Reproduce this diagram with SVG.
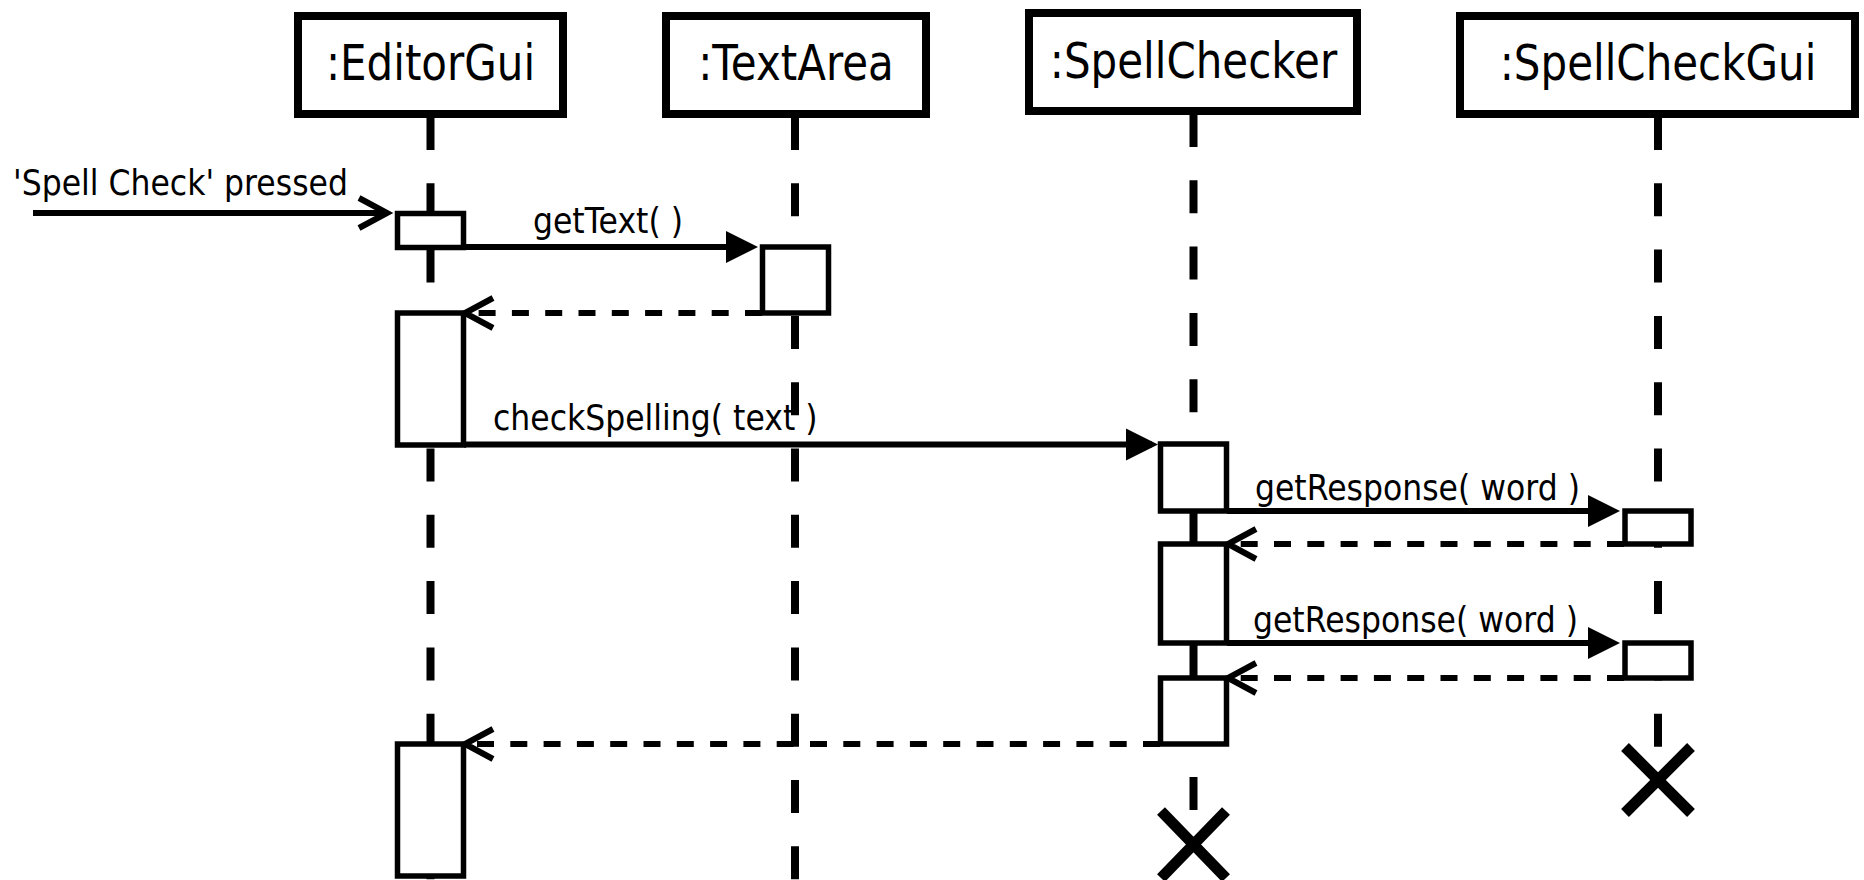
<svg xmlns="http://www.w3.org/2000/svg" width="1864" height="880" viewBox="0 0 1864 880">
<defs>
<style>
.box{fill:#fff;stroke:#000;stroke-width:8}
.title{font-family:"DejaVu Sans","Liberation Sans",sans-serif;font-size:42px;text-anchor:middle;fill:#000}
.label{font-family:"DejaVu Sans","Liberation Sans",sans-serif;font-size:31.5px;fill:#000}
.life{stroke:#000;stroke-width:8;stroke-dasharray:33 33.3;fill:none}
.act{fill:#fff;stroke:#000;stroke-width:5.5}
.msg{stroke:#000;stroke-width:6;fill:none}
.ret{stroke:#000;stroke-width:6;fill:none;stroke-dasharray:17 16.3}
.destroy{stroke:#000;stroke-width:11;fill:none}
</style>
<marker id="filled" markerUnits="userSpaceOnUse" markerWidth="32" markerHeight="32" refX="26" refY="16" orient="auto" style="overflow:visible">
<path d="M0,0 L32,16 L0,32 Z" fill="#000" stroke="none"/>
</marker>
<marker id="open" markerUnits="userSpaceOnUse" markerWidth="40" markerHeight="40" refX="32" refY="17" orient="auto" style="overflow:visible">
<path d="M4,2 L32,17 L4,32" fill="none" stroke="#000" stroke-width="6" stroke-linejoin="miter" stroke-dasharray="none"/>
</marker>
</defs>
<rect x="0" y="0" width="1864" height="880" fill="#fff"/>

<g id="message-labels">
<text class="label" transform="translate(13,195) scale(1,1.1)">'Spell Check' pressed</text>
<text class="label" transform="translate(533,233) scale(1,1.1)">getText( )</text>
<text class="label" transform="translate(493,430) scale(1,1.1)">checkSpelling( text )</text>
<text class="label" transform="translate(1255,500) scale(1,1.1)">getResponse( word )</text>
<text class="label" transform="translate(1253,632) scale(1,1.1)">getResponse( word )</text>
</g>

<g id="editorGui">
<rect class="box" x="298" y="16" width="265" height="98"/>
<text class="title" transform="translate(430.5,80) scale(1,1.2)">:EditorGui</text>
<line class="life" x1="430.5" y1="117" x2="430.5" y2="880"/>
<rect class="act" x="397.5" y="213.5" width="66" height="34"/>
<rect class="act" x="397.5" y="313" width="66" height="132"/>
<rect class="act" x="397.5" y="744" width="66" height="132"/>
</g>

<g id="textArea">
<rect class="box" x="666" y="16" width="260" height="98"/>
<text class="title" transform="translate(796,80) scale(1,1.2)">:TextArea</text>
<line class="life" x1="795" y1="117" x2="795" y2="880"/>
<rect class="act" x="762.5" y="247" width="66" height="66"/>
</g>

<g id="spellChecker">
<rect class="box" x="1029" y="13" width="328" height="98"/>
<text class="title" transform="translate(1193.5,78) scale(1,1.2)">:SpellChecker</text>
<line class="life" x1="1193.5" y1="114" x2="1193.5" y2="812"/>
<rect class="act" x="1160.5" y="444" width="66" height="67"/>
<rect class="act" x="1160.5" y="544" width="66" height="99"/>
<rect class="act" x="1160.5" y="678" width="66" height="66"/>
<path class="destroy" d="M1161,811 L1226,878 M1226,811 L1161,878"/>
</g>

<g id="spellCheckGui">
<rect class="box" x="1460" y="16" width="395" height="98"/>
<text class="title" transform="translate(1658,80) scale(1,1.2)">:SpellCheckGui</text>
<line class="life" x1="1658" y1="117" x2="1658" y2="750"/>
<rect class="act" x="1625" y="511" width="66" height="33"/>
<rect class="act" x="1625" y="643" width="66" height="35"/>
<path class="destroy" d="M1625,747 L1691,813 M1691,747 L1625,813"/>
</g>

<g id="connectors">
<line class="msg" x1="33" y1="213" x2="387" y2="213" marker-end="url(#open)"/>
<line class="msg" x1="464" y1="247" x2="752" y2="247" marker-end="url(#filled)"/>
<line class="ret" x1="762" y1="313" x2="465" y2="313" marker-end="url(#open)"/>
<line class="msg" x1="464" y1="444.5" x2="1152" y2="444.5" marker-end="url(#filled)"/>
<line class="msg" x1="1227" y1="511" x2="1614" y2="511" marker-end="url(#filled)"/>
<line class="ret" x1="1624" y1="544" x2="1228" y2="544" marker-end="url(#open)"/>
<line class="msg" x1="1227" y1="643" x2="1614" y2="643" marker-end="url(#filled)"/>
<line class="ret" x1="1624" y1="678" x2="1228" y2="678" marker-end="url(#open)"/>
<line class="ret" x1="1160" y1="744" x2="465" y2="744" marker-end="url(#open)"/>
</g>
</svg>
